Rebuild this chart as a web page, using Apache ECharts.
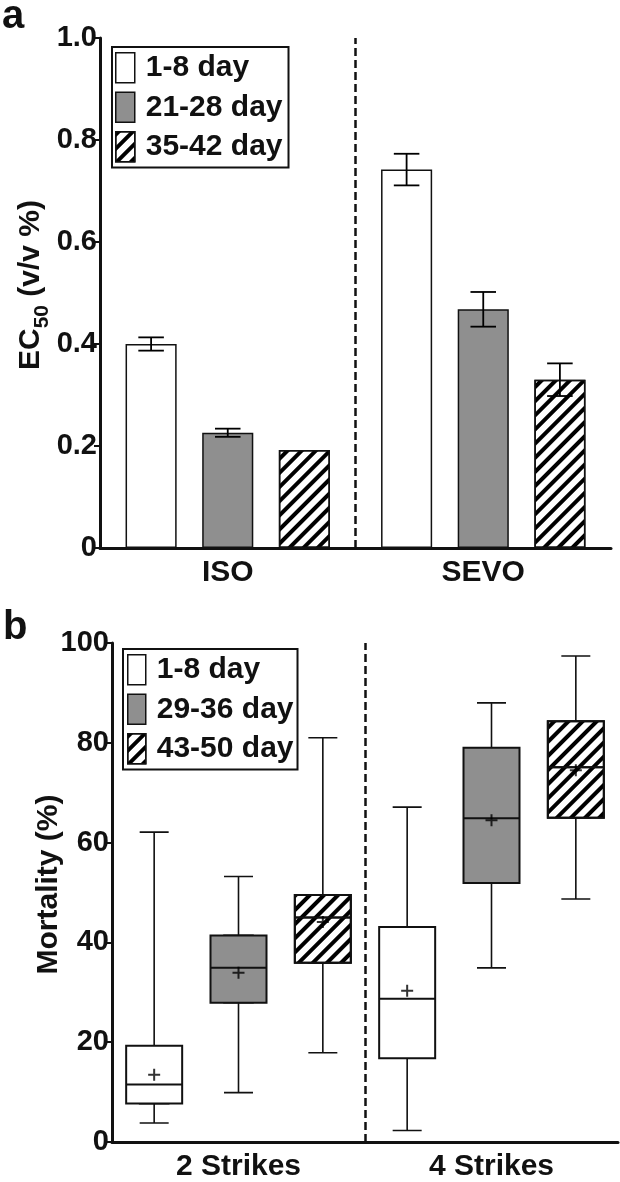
<!DOCTYPE html>
<html><head><meta charset="utf-8">
<script src="https://cdn.jsdelivr.net/npm/echarts@6/dist/echarts.min.js"></script>
<style>html,body{margin:0;padding:0;background:#fff}#c{width:620px;height:1182px}</style>
</head><body><div id="c"></div>
<script>
// ---- Panel a data ----
const topCategories = ['ISO', 'SEVO'];
const topSeriesNames = ['1-8 day', '21-28 day', '35-42 day'];
const ec50_1_8 = [0.400, 0.742];
const ec50_21_28 = [0.226, 0.468];
const ec50_35_42 = [0.192, 0.330];
const err_1_8 = [0.013, 0.031];
const err_21_28 = [0.008, 0.034];
const err_35_42 = [0.000, 0.032];

// ---- Panel b data ----
const botCategories = ['2 Strikes', '4 Strikes'];
const botSeriesNames = ['1-8 day', '29-36 day', '43-50 day'];
// [min, Q1, median, Q3, max] per category
const mort_1_8 = [[3.8, 7.7, 11.5, 19.3, 62.1], [2.3, 16.8, 28.7, 43.1, 67.1]];
const mort_29_36 = [[9.9, 27.9, 34.9, 41.4, 53.2], [34.9, 51.9, 64.9, 79.0, 88.0]];
const mort_43_50 = [[17.9, 35.9, 45.0, 49.5, 81.0], [48.7, 65.0, 75.1, 84.3, 97.4]];
const mean_1_8 = [13.5, 30.3];
const mean_29_36 = [33.9, 64.5];
const mean_43_50 = [44.1, 74.5];

const FONT = 'Liberation Sans';
const INK = '#111';
const GRAY = '#8f8f8f';
const hatch = { symbol: 'rect', symbolSize: 1, dashArrayX: [1, 0], dashArrayY: [3.5, 6], rotation: -Math.PI / 4, color: '#000' };
const fills = [
  { color: '#fff' },
  { color: GRAY },
  { color: '#fff', decal: hatch }
];

const topVals = [ec50_1_8, ec50_21_28, ec50_35_42];
const topErrs = [err_1_8, err_21_28, err_35_42];
const botBoxes = [mort_1_8, mort_29_36, mort_43_50];
const botMeans = [mean_1_8, mean_29_36, mean_43_50];

// six box slots: category-major order
const slotNames = [];
const slotBox = [];
const slotMean = [];
const slotFill = [];
botCategories.forEach((c, ci) => {
  botSeriesNames.forEach((s, si) => {
    slotNames.push(c + ' ' + s);
    slotBox.push(botBoxes[si][ci]);
    slotMean.push(botMeans[si][ci]);
    slotFill.push(fills[si]);
  });
});

const chart = echarts.init(document.getElementById('c'), null, { renderer: 'canvas' });

const labelStyle = { fontFamily: FONT, fontWeight: 'bold', color: INK };
function yAxisBase(gridIndex, min, max, interval, fmt, name, nameGap) {
  return {
    type: 'value', gridIndex, min, max, interval,
    axisLine: { show: true, lineStyle: { color: INK, width: 3 } },
    axisTick: { show: true, length: 6, lineStyle: { color: INK, width: 2 } },
    splitLine: { show: false },
    axisLabel: Object.assign({ fontSize: 29, margin: 3, formatter: fmt }, labelStyle),
    name, nameLocation: 'middle', nameGap, nameRotate: 90, nameMoveOverlap: false,
    nameTextStyle: {
      padding: [0, 0, 0, 16],
      rich: {
        b: { fontFamily: FONT, fontWeight: 'bold', fontSize: 30, color: INK, lineHeight: 30, verticalAlign: 'top' },
        s: { fontFamily: FONT, fontWeight: 'bold', fontSize: 21, color: INK, lineHeight: 21, verticalAlign: 'top', padding: [16, 0, 0, 0] }
      }
    }
  };
}

const series = [];
// Panel a bars
topSeriesNames.forEach((n, k) => {
  series.push({
    type: 'bar', name: n, xAxisIndex: 0, yAxisIndex: 0,
    data: topVals[k], barWidth: '20%', barGap: '50%',
    itemStyle: Object.assign({ borderColor: INK, borderWidth: 1.5 }, fills[k]),
    z: 2
  });
});
// Panel a error bars
topSeriesNames.forEach((n, k) => {
  series.push({
    type: 'custom', xAxisIndex: 0, yAxisIndex: 0, z: 5,
    data: topCategories.map((c, i) => [i, topVals[k][i], topErrs[k][i]]),
    renderItem: function (params, api) {
      const i = api.value(0), v = api.value(1), e = api.value(2);
      if (!e) return null;
      const band = api.size([1, 0])[0];
      const off = (k - 1) * band * 0.3;
      const hi = api.coord([i, v + e]);
      const lo = api.coord([i, v - e]);
      const x = hi[0] + off;
      const hw = band * 0.05;
      const st = { stroke: '#000', lineWidth: 1.8 };
      return {
        type: 'group', children: [
          { type: 'line', shape: { x1: x, y1: hi[1], x2: x, y2: lo[1] }, style: st },
          { type: 'line', shape: { x1: x - hw, y1: hi[1], x2: x + hw, y2: hi[1] }, style: st },
          { type: 'line', shape: { x1: x - hw, y1: lo[1], x2: x + hw, y2: lo[1] }, style: st }
        ]
      };
    }
  });
});
// Panel a divider
series.push({
  type: 'line', xAxisIndex: 1, yAxisIndex: 0, data: [],
  markLine: { silent: true, symbol: ['none', 'none'], label: { show: false }, animation: false,
    lineStyle: { color: INK, width: 2.5, type: [8, 4] }, data: [{ xAxis: 1 }] }
});
// Panel b whiskers (narrow caps)
series.push({
  type: 'boxplot', xAxisIndex: 3, yAxisIndex: 1, boxWidth: [29, 29], z: 2,
  data: slotBox.map(b => b.slice()),
  itemStyle: { color: '#fff', borderColor: INK, borderWidth: 1.6 }
});
// Panel b boxes (Q1..Q3 with median)
series.push({
  type: 'boxplot', xAxisIndex: 4, yAxisIndex: 1, boxWidth: [56, 56], z: 3,
  data: slotBox.map((b, i) => ({ value: [b[1], b[1], b[2], b[3], b[3]], itemStyle: Object.assign({}, slotFill[i]) })),
  itemStyle: { borderColor: INK, borderWidth: 2 }
});
// Panel b means
series.push({
  type: 'scatter', xAxisIndex: 5, yAxisIndex: 1, z: 6,
  data: slotMean,
  symbol: 'path://M0,6H12M6,0V12', symbolSize: 12,
  itemStyle: { color: 'rgba(0,0,0,0)', borderColor: '#000', borderWidth: 2 }
});
// Panel b legend carriers
botSeriesNames.slice(1).forEach((n, k) => {
  series.push({
    type: 'bar', name: n, xAxisIndex: 5, yAxisIndex: 1, data: [],
    itemStyle: Object.assign({ borderColor: INK, borderWidth: 1.5 }, fills[k + 1])
  });
});
// Panel b divider
series.push({
  type: 'line', xAxisIndex: 6, yAxisIndex: 1, data: [],
  markLine: { silent: true, symbol: ['none', 'none'], label: { show: false }, animation: false,
    lineStyle: { color: INK, width: 2.5, type: [8, 4] }, data: [{ xAxis: 1 }] }
});

const catAxis = (gridIndex, data) => ({
  type: 'category', gridIndex, data,
  axisLine: { show: true, lineStyle: { color: INK, width: 3 } },
  axisTick: { show: false },
  axisLabel: Object.assign({ fontSize: 30, margin: 10 }, labelStyle)
});
const hiddenCat = () => ({ type: 'category', gridIndex: 1, data: slotNames, show: false });

const legendBase = {
  orient: 'vertical', icon: 'rect', selectedMode: false,
  itemHeight: 30, itemGap: 8,
  borderColor: INK, borderWidth: 2,
  itemStyle: { borderColor: INK, borderWidth: 1.5 },
  textStyle: { fontFamily: FONT, fontWeight: 'bold', fontSize: 30, color: INK, lineHeight: 30, padding: [0, 0, 0, 6] }
};

chart.setOption({
  animation: false,
  backgroundColor: '#fff',
  grid: [
    { left: 100, top: 38, width: 511, height: 510 },
    { left: 112, top: 643, width: 506, height: 505 }
  ],
  xAxis: [
    catAxis(0, topCategories),
    { type: 'value', gridIndex: 0, min: 0, max: 2, show: false },
    catAxis(1, botCategories),
    hiddenCat(), hiddenCat(), hiddenCat(),
    { type: 'value', gridIndex: 1, min: 0, max: 2, show: false }
  ],
  yAxis: [
    yAxisBase(0, 0, 1, 0.2, v => (v === 0 ? '0' : v.toFixed(1)), '{b|EC}{s|50}{b| (v/v %)}', 54),
    yAxisBase(1, 0, 100, 20, v => String(v), '{b|Mortality (%)}', 48)
  ],
  legend: [
    Object.assign({}, legendBase, { left: 112, top: 47, itemWidth: 19, padding: [5, 6, 5, 3], data: topSeriesNames }),
    Object.assign({}, legendBase, { left: 123, top: 649, itemWidth: 18, padding: [5, 4, 5, 4], data: botSeriesNames })
  ],
  graphic: [
    { type: 'text', left: 2, top: -3, style: { text: 'a', font: 'bold 40px "Liberation Sans"', fill: INK } },
    { type: 'text', left: 3, top: 608, style: { text: 'b', font: 'bold 40px "Liberation Sans"', fill: INK } }
  ],
  series
});
</script>
</body></html>
